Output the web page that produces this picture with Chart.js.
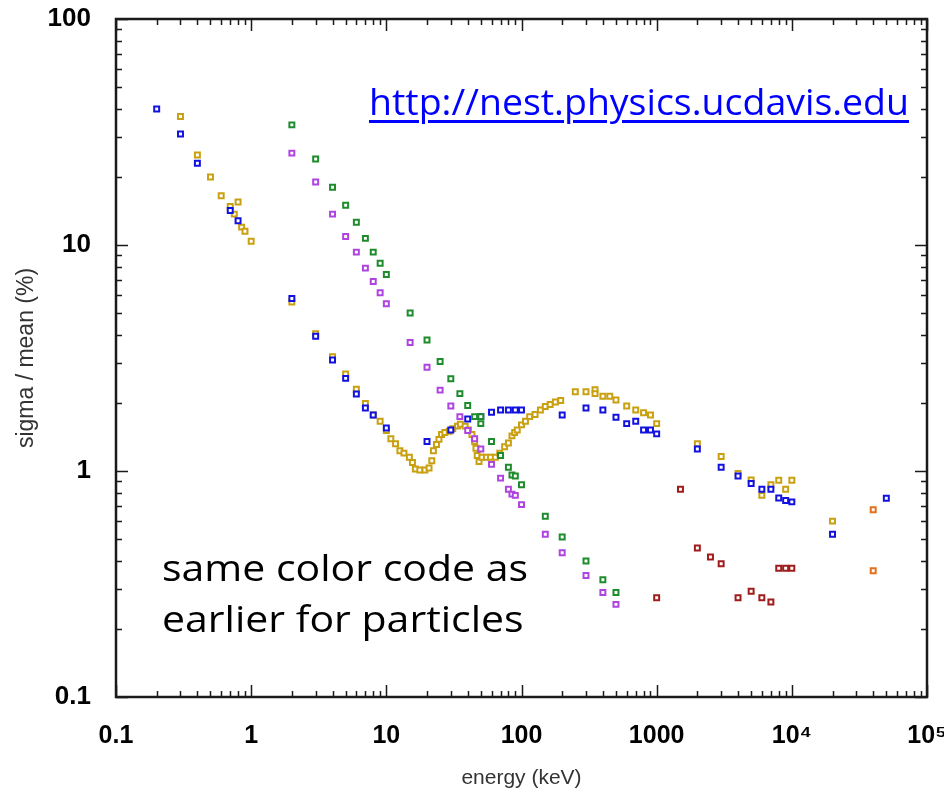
<!DOCTYPE html>
<html>
<head>
<meta charset="utf-8">
<script src="https://cdn.jsdelivr.net/npm/chart.js@4.4.1/dist/chart.umd.min.js"></script>
<style>
  html, body { margin: 0; padding: 0; background: #fff; }
  #wrap { position: relative; width: 944px; height: 796px; }
  #chart { position: absolute; left: 0; top: 0; }
  .note { position: absolute; font-family: "Open Sans", "Noto Sans", sans-serif; white-space: nowrap; transform-origin: 0 0; }
  #url { left: 369px; top: 82px; font-size: 37px; line-height: 37px; color: #0000ff;
         text-decoration: underline; text-decoration-thickness: 3px; text-underline-offset: 5px; }
  #remark { left: 162px; top: 542px; font-size: 36px; line-height: 51px; color: #000; }
</style>
</head>
<body>
<div id="wrap">
  <canvas id="chart" width="944" height="796"></canvas>
  <a class="note" id="url" href="http://nest.physics.ucdavis.edu">http://nest.physics.ucdavis.edu</a>
  <div class="note" id="remark">same color code as<br>earlier for particles</div>
</div>
<script>
// energy (keV) and sigma/mean (%), one pair of lists per colour
const blueE = [0.2, 0.3, 0.4, 0.7, 0.8, 2, 3, 4, 5, 6, 7, 8, 10, 20, 30, 40, 50, 60, 70, 80, 90, 100,
  200, 300, 400, 500, 600, 700, 800, 900, 1000, 2000, 3000, 4000, 5000, 6000, 7000, 8000, 9000, 10000, 20000, 50000];
const blueS = [40, 31, 23, 14.2, 12.8, 5.8, 3.95, 3.1, 2.57, 2.19, 1.9, 1.77, 1.55, 1.35, 1.52, 1.7, 1.74, 1.82, 1.86, 1.86, 1.86, 1.86,
  1.77, 1.9, 1.86, 1.73, 1.62, 1.66, 1.52, 1.52, 1.46, 1.25, 1.04, 0.95, 0.88, 0.83, 0.83, 0.76, 0.74, 0.73, 0.525, 0.757];

const purpleE = [2, 3, 4, 5, 6, 7, 8, 9, 10, 15, 20, 25, 30, 35, 40, 45, 50, 60, 70, 80, 85, 90, 100, 150, 200, 300, 400, 500];
const purpleS = [25.5, 19, 13.7, 10.9, 9.3, 7.9, 6.9, 6.15, 5.5, 3.7, 2.88, 2.28, 1.94, 1.74, 1.51, 1.39, 1.25, 1.07, 0.93, 0.83, 0.79, 0.78, 0.71,
  0.525, 0.435, 0.345, 0.29, 0.257];

const greenE = [2, 3, 4, 5, 6, 7, 8, 9, 10, 15, 20, 25, 30, 35, 40, 45, 50, 50, 60, 70, 80, 85, 90, 100, 150, 200, 300, 400, 500];
const greenS = [34, 24, 18, 15, 12.6, 10.7, 9.3, 8.3, 7.4, 5, 3.8, 3.05, 2.56, 2.2, 1.95, 1.74, 1.74, 1.62, 1.35, 1.17, 1.04, 0.96, 0.95, 0.87,
  0.63, 0.51, 0.4, 0.33, 0.29];

const goldE = [0.3, 0.4, 0.5, 0.6, 0.7, 0.75, 0.8, 0.85, 0.9, 1.0, 2, 3, 4, 5, 6, 7, 8, 9, 10,
  10.8, 11.7, 12.6, 13.5, 14.8, 15.6, 16.4, 17.7, 19.3, 20.7, 21.7, 22.3, 23.5, 24.5, 25.6, 27.1, 29.2, 31, 33.6, 35.3,
  38.3, 40.5, 43, 45, 46, 47, 48.5, 51, 55, 59, 64, 69, 75, 80, 85, 89, 93, 100, 107, 115, 126, 138, 150, 163, 178, 195,
  250, 300, 350, 350, 400, 450, 500, 600, 700, 800, 900, 1000, 2000, 3000, 4000, 5000, 6000, 7000, 8000, 9000, 10000, 20000];
const goldS = [37, 25, 20, 16.5, 14.8, 13.7, 15.5, 12, 11.5, 10.4, 5.6, 4.05, 3.2, 2.69, 2.3, 1.99, 1.77, 1.66, 1.51,
  1.39, 1.32, 1.23, 1.2, 1.15, 1.09, 1.02, 1.01, 1.01, 1.03, 1.11, 1.23, 1.31, 1.38, 1.45, 1.48, 1.5, 1.54, 1.58, 1.61,
  1.58, 1.52, 1.45, 1.35, 1.26, 1.17, 1.1, 1.15, 1.15, 1.15, 1.15, 1.2, 1.28, 1.33, 1.43, 1.48, 1.52, 1.6, 1.66, 1.74, 1.78, 1.86, 1.93, 1.97, 2.02, 2.05,
  2.24, 2.24, 2.29, 2.2, 2.14, 2.14, 2.06, 1.94, 1.86, 1.81, 1.77, 1.62, 1.32, 1.16, 0.976, 0.912, 0.78, 0.87, 0.91, 0.83, 0.91, 0.6];

const redE = [1000, 1500, 2000, 2500, 3000, 4000, 5000, 6000, 7000, 8000, 9000, 10000];
const redS = [0.275, 0.83, 0.456, 0.416, 0.389, 0.275, 0.294, 0.275, 0.263, 0.371, 0.371, 0.371];

const orangeE = [40000, 40000];
const orangeS = [0.674, 0.362];

const xTicks = [0.1, 1, 10, 100, 1000, 1e4, 1e5];
const xTickLabels = ['0.1', '1', '10', '100', '1000', '10\u2074', '10\u2075'];
const yTicks = [0.1, 1, 10, 100];
const yTickLabels = ['0.1', '1', '10', '100'];

function pairs(xs, ys) {
  return xs.map((x, i) => ({ x: x, y: ys[i] }));
}

function series(xs, ys, color) {
  return {
    data: pairs(xs, ys),
    pointStyle: 'rect',
    pointRadius: 3.5,
    pointHoverRadius: 3.5,
    borderWidth: 2,
    borderColor: color,
    backgroundColor: '#ffffff',
    showLine: false
  };
}

function labelFor(value, ticks, labels) {
  const i = ticks.findIndex(t => Math.abs(Math.log10(t) - Math.log10(value)) < 1e-6);
  return i < 0 ? '' : labels[i];
}

// frame with inward major/minor ticks on all four sides, like gnuplot
const framePlugin = {
  id: 'frame',
  afterDraw(chart) {
    const { ctx, chartArea: a, scales } = chart;
    ctx.save();
    ctx.strokeStyle = '#1a1a1a';
    ctx.lineWidth = 1.5;
    for (let e = -1; e <= 5; e++) {
      for (let k = 1; k <= 9; k++) {
        const v = k * Math.pow(10, e);
        const len = k === 1 ? 12 : 6;
        if (v >= scales.x.min * 0.999 && v <= scales.x.max * 1.001) {
          const px = Math.round(scales.x.getPixelForValue(v)) + 0.5;
          ctx.beginPath();
          ctx.moveTo(px, a.bottom); ctx.lineTo(px, a.bottom - len);
          ctx.moveTo(px, a.top); ctx.lineTo(px, a.top + len);
          ctx.stroke();
        }
        if (v >= scales.y.min * 0.999 && v <= scales.y.max * 1.001) {
          const py = Math.round(scales.y.getPixelForValue(v)) + 0.5;
          ctx.beginPath();
          ctx.moveTo(a.left, py); ctx.lineTo(a.left + len, py);
          ctx.moveTo(a.right, py); ctx.lineTo(a.right - len, py);
          ctx.stroke();
        }
      }
    }
    ctx.lineWidth = 2.5;
    ctx.strokeRect(a.left, a.top, a.right - a.left, a.bottom - a.top);
    ctx.restore();
  }
};

const xTickFont = { family: '"Liberation Sans", Arial, sans-serif', size: 25, weight: 'bold' };
const yTickFont = { family: '"Liberation Sans", Arial, sans-serif', size: 26, weight: 'bold' };
const titleFont = { family: '"Liberation Sans", Arial, sans-serif', size: 21 };

new Chart(document.getElementById('chart'), {
  type: 'scatter',
  data: {
    datasets: [
      series(purpleE, purpleS, '#b044e0'),
      series(greenE, greenS, '#1e8c2c'),
      series(blueE, blueS, '#1212e0'),
      series(goldE, goldS, '#c9a010'),
      series(redE, redS, '#a01c1c'),
      series(orangeE, orangeS, '#e2701c')
    ]
  },
  options: {
    responsive: false,
    animation: false,
    devicePixelRatio: 1,
    layout: { padding: { top: 19, right: 17, left: 0, bottom: 0 } },
    plugins: { legend: { display: false }, tooltip: { enabled: false } },
    scales: {
      x: {
        type: 'logarithmic',
        position: 'bottom',
        min: 0.1,
        max: 1e5,
        grid: { display: false },
        border: { display: false },
        afterBuildTicks: s => { s.ticks = xTicks.map(v => ({ value: v })); },
        afterFit: s => { s.height = 99; s.paddingLeft = 0; s.paddingRight = 0; },
        ticks: {
          autoSkip: false,
          maxRotation: 0,
          padding: 16,
          color: '#000',
          font: xTickFont,
          callback: v => labelFor(v, xTicks, xTickLabels)
        },
        title: { display: true, text: 'energy (keV)', color: '#333', font: titleFont, padding: { top: 0, bottom: 5 } }
      },
      y: {
        type: 'logarithmic',
        position: 'left',
        min: 0.1,
        max: 100,
        grid: { display: false },
        border: { display: false },
        afterBuildTicks: s => { s.ticks = yTicks.map(v => ({ value: v })); },
        afterFit: s => { s.width = 116; s.paddingTop = 0; s.paddingBottom = 0; },
        ticks: {
          autoSkip: false,
          padding: 17,
          color: '#000',
          font: yTickFont,
          callback: v => labelFor(v, yTicks, yTickLabels)
        },
        title: { display: true, text: 'sigma / mean (%)', color: '#333',
                 font: { family: '"Liberation Sans", Arial, sans-serif', size: 23 }, padding: { top: 13, bottom: 0 } }
      }
    }
  },
  plugins: [framePlugin]
});

// squeeze the overlay texts to the widths they take in the original
function fitWidth(id, target) {
  const el = document.getElementById(id);
  const w = el.getBoundingClientRect().width;
  if (w > 0) el.style.transform = 'scaleX(' + (target / w) + ')';
}
fitWidth('url', 540);
fitWidth('remark', 366);
</script>
</body>
</html>
